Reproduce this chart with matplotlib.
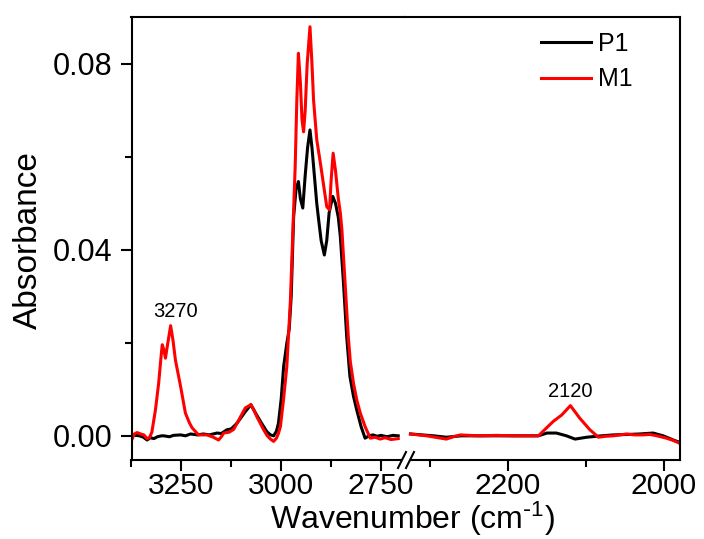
import matplotlib
matplotlib.use("Agg")
import matplotlib.pyplot as plt
from matplotlib.lines import Line2D
from matplotlib.patches import Rectangle
from matplotlib.ticker import MultipleLocator, FormatStrFormatter

plt.rcParams['font.family'] = ['Liberation Sans', 'DejaVu Sans']
plt.rcParams['mathtext.default'] = 'regular'

# --- data (wavenumber in cm-1, absorbance) ---
# high wavenumber segment
wn_m1_hi = [3375, 3368, 3361, 3352, 3344, 3336, 3330, 3324, 3315, 3307, 3301, 3298, 3294, 3290,
            3284, 3277, 3271, 3265, 3252, 3240, 3230, 3223, 3207, 3186, 3170, 3157, 3150, 3144,
            3130, 3119, 3110, 3102, 3090, 3076, 3068, 3061, 3044, 3035, 3027, 3019, 3012, 3007,
            3002, 2994, 2986, 2977, 2971, 2965, 2961, 2957, 2952, 2948, 2944, 2940, 2935, 2928,
            2923, 2919, 2911, 2902, 2894, 2886, 2879, 2875, 2870, 2864, 2857, 2852, 2848, 2844,
            2840, 2836, 2832, 2827, 2819, 2811, 2802, 2790, 2777, 2765, 2752, 2740, 2725, 2707]
m1_hi = [-0.0010, 0.0004, 0.0007, 0.0004, 0.0002, -0.0006, -0.0004, 0.0008, 0.0056, 0.0113,
         0.0170, 0.0196, 0.0185, 0.0167, 0.0200, 0.0237, 0.0205, 0.0163, 0.0106, 0.0049,
         0.0028, 0.0017, 0.0002, 0.0002, -0.0003, -0.0009, -0.0002, 0.0006, 0.0008, 0.0014,
         0.0028, 0.0041, 0.0060, 0.0067, 0.0055, 0.0041, 0.0013, 0.0000, -0.0007, -0.0012,
         -0.0005, 0.0005, 0.0020, 0.0080, 0.0149, 0.0292, 0.0436, 0.0580, 0.0720, 0.0823,
         0.0760, 0.0680, 0.0654, 0.0700, 0.0800, 0.0880, 0.0800, 0.0722, 0.0637, 0.0587,
         0.0540, 0.0493, 0.0486, 0.0550, 0.0608, 0.0570, 0.0510, 0.0480, 0.0443, 0.0385,
         0.0328, 0.0270, 0.0213, 0.0160, 0.0113, 0.0078, 0.0049, 0.0020, -0.0005, -0.0003,
         -0.0007, -0.0004, -0.0008, -0.0006]

wn_p1_hi = [3375, 3365, 3355, 3345, 3336, 3328, 3319, 3310, 3300, 3294, 3280, 3270, 3252, 3240,
            3227, 3210, 3195, 3180, 3161, 3150, 3136, 3125, 3111, 3100, 3090, 3076, 3065, 3052,
            3036, 3027, 3019, 3012, 3007, 3000, 2994, 2986, 2980, 2975, 2969, 2963, 2957, 2952,
            2946, 2940, 2934, 2928, 2923, 2919, 2911, 2907, 2900, 2892, 2886, 2880, 2871, 2864,
            2857, 2852, 2844, 2836, 2828, 2819, 2811, 2800, 2790, 2780, 2770, 2760, 2750, 2735,
            2720, 2707]
p1_hi = [0.0000, 0.0001, 0.0000, -0.0003, -0.0009, -0.0004, -0.0006, -0.0002, 0.0000, 0.0000,
         -0.0002, 0.0001, 0.0002, 0.0000, 0.0004, 0.0002, 0.0004, 0.0002, 0.0006, 0.0005,
         0.0013, 0.0015, 0.0027, 0.0040, 0.0052, 0.0067, 0.0050, 0.0031, 0.0009, 0.0002,
         0.0000, 0.0010, 0.0027, 0.0080, 0.0149, 0.0199, 0.0230, 0.0300, 0.0470, 0.0530,
         0.0547, 0.0510, 0.0490, 0.0560, 0.0620, 0.0658, 0.0620, 0.0580, 0.0500, 0.0470,
         0.0420, 0.0389, 0.0420, 0.0480, 0.0515, 0.0500, 0.0470, 0.0429, 0.0328, 0.0213,
         0.0128, 0.0085, 0.0056, 0.0020, -0.0005, 0.0000, 0.0002, -0.0001, 0.0001, -0.0002,
         0.0001, 0.0000]

# low wavenumber segment
wn_m1_lo = [2325, 2315, 2304, 2290, 2279, 2270, 2261, 2250, 2236, 2215, 2193, 2175, 2161, 2150,
            2142, 2131, 2120, 2108, 2095, 2084, 2075, 2065, 2048, 2038, 2027, 2018, 2009, 1997,
            1988, 1980]
m1_lo = [0.0004, 0.0002, 0.0000, -0.0004, -0.0007, -0.0002, 0.0002, 0.0001, 0.0000, 0.0001,
         0.0000, 0.0000, 0.0000, 0.0018, 0.0031, 0.0045, 0.0065, 0.0038, 0.0013, -0.0003,
         -0.0001, 0.0000, 0.0004, 0.0002, 0.0002, 0.0003, 0.0000, -0.0005, -0.0010, -0.0016]

wn_p1_lo = [2325, 2310, 2295, 2279, 2260, 2236, 2200, 2175, 2161, 2150, 2138, 2125, 2114, 2099,
            2080, 2065, 2045, 2031, 2014, 2001, 1988, 1980]
p1_lo = [0.0004, 0.0002, 0.0000, -0.0003, 0.0000, 0.0000, 0.0000, 0.0000, 0.0000, 0.0006,
         0.0006, 0.0000, -0.0007, -0.0003, 0.0000, 0.0002, 0.0003, 0.0004, 0.0006, 0.0000,
         -0.0009, -0.0014]

W, H = 704, 539
fig = plt.figure(figsize=(W / 100, H / 100), dpi=100)

x0, xb, x1 = 131.5, 405, 680
ytop, ybot = 17, 460
bottom = 1 - ybot / H
height = (ybot - ytop) / H
ax1 = fig.add_axes([x0 / W, bottom, (xb - x0) / W, height])
ax2 = fig.add_axes([xb / W, bottom, (x1 - xb) / W, height])

lw = 2.2
for ax in (ax1, ax2):
    ax.set_ylim(-0.0052, 0.0901)
    for s in ax.spines.values():
        s.set_linewidth(1.5)
    ax.tick_params(which='both', direction='out', width=1.5, labelsize=22, top=False, right=False)
    ax.tick_params(which='major', length=8)
    ax.tick_params(which='minor', length=5)
    ax.tick_params(axis='x', pad=0.5, labelsize=21.5)

ax1.plot(wn_p1_hi, p1_hi, color='black', lw=lw)
ax1.plot(wn_m1_hi, m1_hi, color='#ff0000', lw=lw)
ax2.plot(wn_p1_lo, p1_lo, color='black', lw=lw, label='P1')
ax2.plot(wn_m1_lo, m1_lo, color='#ff0000', lw=lw, label='M1')

ax1.set_xlim(3375, 2690)
ax2.set_xlim(2332, 1979.5)
ax1.set_xticks([3250, 3000, 2750])
ax1.xaxis.set_minor_locator(MultipleLocator(125))
ax2.set_xticks([2200, 2000])
ax2.set_xticks([2300, 2100], minor=True)

ax1.set_yticks([0.0, 0.04, 0.08])
ax1.yaxis.set_minor_locator(MultipleLocator(0.02))
ax1.yaxis.set_major_formatter(FormatStrFormatter('%.2f'))
ax1.tick_params(axis='y', pad=6)
ax2.tick_params(axis='y', which='both', left=False, labelleft=False)

ax1.spines['right'].set_visible(False)
ax2.spines['left'].set_visible(False)

ax1.text(3265, 0.0268, '3270', fontsize=14.5, ha='center', va='center')
ax2.text(2120, 0.0095, '2120', fontsize=14.5, ha='center', va='center')

ax2.legend(loc='upper left', bbox_to_anchor=(541 / W, 1 - 32 / H), bbox_transform=fig.transFigure,
           frameon=False, fontsize=18, handlelength=2.0, handletextpad=0.3, labelspacing=0.45,
           borderpad=0, borderaxespad=0)

fig.text(28 / W, 1 - 240 / H, 'Absorbance', rotation=90, fontsize=24, ha='center', va='center')
fig.text(412 / W, 1 - 519 / H, r'Wavenumber (cm$^{\text{-}1}$)', fontsize=23, ha='center', va='center')

# axis break marks on the bottom spine
def fx(px):
    return px / W

def fy(py):
    return 1 - py / H

fig.add_artist(Rectangle((fx(402), fy(463)), fx(8), 6 / H, transform=fig.transFigure,
                         facecolor='white', edgecolor='none', zorder=5))
for cx in (402, 410):
    fig.add_artist(Line2D([fx(cx - 4), fx(cx + 4)], [fy(468), fy(452)], transform=fig.transFigure,
                          color='black', lw=1.5, zorder=6))

fig.savefig('out.png', dpi=100)
